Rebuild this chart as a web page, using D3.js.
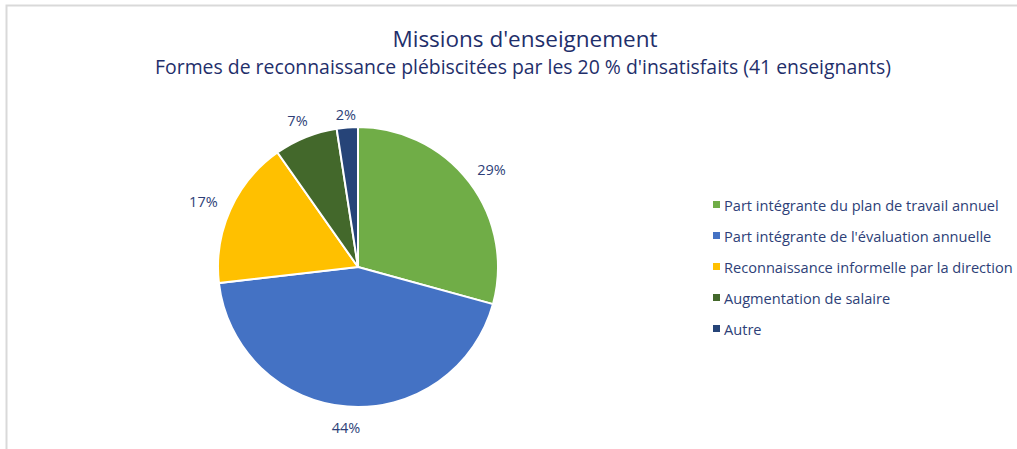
<!DOCTYPE html>
<html>
<head>
<meta charset="utf-8">
<script src="https://cdn.jsdelivr.net/npm/d3@7"></script>
<style>
  body { margin: 0; background: #fff; }
  svg text { font-family: 'Open Sans', 'Noto Sans', sans-serif; }
</style>
</head>
<body>
<div id="chart"></div>
<script>
// Data: answers of the 41 unsatisfied teachers
const categories = [
  'Part intégrante du plan de travail annuel',
  "Part intégrante de l'évaluation annuelle",
  'Reconnaissance informelle par la direction',
  'Augmentation de salaire',
  'Autre',
];
const counts = [12, 18, 7, 3, 1];
const percentLabels = ['29%', '44%', '17%', '7%', '2%'];
const colors = ['#70AD47', '#4472C4', '#FFC000', '#43682B', '#264478'];

const width = 1017;
const height = 449;
const cx = 358;
const cy = 267;
const radius = 140;
const TEXT_COLOR = '#2E3F78';

const svg = d3.select('#chart')
  .append('svg')
  .attr('width', width)
  .attr('height', height);

// chart frame (only top and left edges visible)
svg.append('path')
  .attr('d', `M6.5,${height} V5.5 H${width}`)
  .attr('fill', 'none')
  .attr('stroke', '#d9d9d9')
  .attr('stroke-width', 2);

// Titles
svg.append('text')
  .attr('x', 525)
  .attr('y', 47)
  .attr('text-anchor', 'middle')
  .style('font-size', '22.5px')
  .attr('fill', '#1F2F6B')
  .text("Missions d'enseignement");

svg.append('text')
  .attr('x', 523)
  .attr('y', 74)
  .attr('text-anchor', 'middle')
  .style('font-size', '19.4px')
  .attr('fill', '#1F2F6B')
  .text("Formes de reconnaissance plébiscitées par les 20 % d'insatisfaits (41 enseignants)");

// Pie
const pie = d3.pie().sort(null).value((d) => d);
const arcs = pie(counts);
const arc = d3.arc().innerRadius(0).outerRadius(radius);

const pieGroup = svg.append('g').attr('transform', `translate(${cx},${cy})`);

pieGroup.selectAll('path')
  .data(arcs)
  .enter()
  .append('path')
  .attr('d', arc)
  .attr('fill', (d, i) => colors[i])
  .attr('stroke', '#fff')
  .attr('stroke-width', 2);

// Labels outside the slices
pieGroup.selectAll('text.label')
  .data(arcs)
  .enter()
  .append('text')
  .attr('class', 'label')
  .attr('text-anchor', 'middle')
  .attr('dominant-baseline', 'central')
  .style('font-size', '14.5px')
  .attr('fill', TEXT_COLOR)
  .attr('transform', (d) => {
    const a = (d.startAngle + d.endAngle) / 2;
    const s = Math.sin(a);
    const c = Math.cos(a);
    const r = radius + 14 + 16 * Math.abs(s) + 2 * Math.abs(c);
    return `translate(${r * s},${-r * c + 4})`;
  })
  .text((d, i) => percentLabels[i]);

// Legend
const legendY = d3.scalePoint()
  .domain(categories)
  .range([205, 329]);

const legend = svg.append('g');
const rows = legend.selectAll('g')
  .data(categories)
  .enter()
  .append('g')
  .attr('transform', (d) => `translate(713,${legendY(d)})`);

rows.append('rect')
  .attr('x', 0)
  .attr('y', -4)
  .attr('width', 7)
  .attr('height', 7)
  .attr('fill', (d, i) => colors[i]);

rows.append('text')
  .attr('x', 11)
  .attr('y', 0)
  .attr('dominant-baseline', 'central')
  .style('font-size', '14.6px')
  .attr('fill', TEXT_COLOR)
  .text((d) => d);
</script>
</body>
</html>
